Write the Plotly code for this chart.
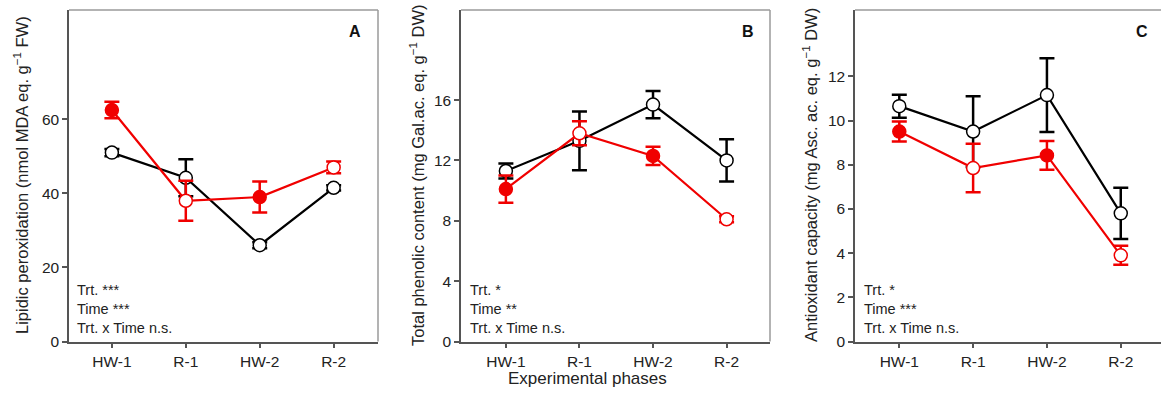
import plotly.graph_objects as go

phases = ["HW-1", "R-1", "HW-2", "R-2"]

# Panel A: lipidic peroxidation
a_red = [62.5, 38.0, 39.0, 47.0]
a_red_err = [2.2, 5.4, 4.2, 1.6]
a_black = [51.0, 44.2, 26.0, 41.5]
a_black_err = [1.0, 5.0, 0.8, 0.7]
a_ticks = [0, 20, 40, 60]

# Panel B: total phenolic content
b_red = [10.1, 13.8, 12.3, 8.1]
b_red_err = [0.9, 0.8, 0.6, 0.2]
b_black = [11.3, 13.3, 15.7, 12.0]
b_black_err = [0.5, 1.95, 0.9, 1.4]
b_ticks = [0, 4, 8, 12, 16]

# Panel C: antioxidant capacity
c_red = [9.5, 7.85, 8.42, 3.9]
c_red_err = [0.45, 1.1, 0.65, 0.43]
c_black = [10.65, 9.5, 11.15, 5.8]
c_black_err = [0.52, 1.6, 1.67, 1.16]
c_ticks = [0, 2, 4, 6, 8, 10, 12]

red_fill = ["#f00000", "white", "#f00000", "white"]

W, H = 1161, 396
RED = "#f00000"
BLACK = "#000000"
FONT = "Liberation Sans, Arial, sans-serif"
TXT = "#222222"

panels = [
    dict(red=a_red, red_err=a_red_err, black=a_black, black_err=a_black_err,
         x0=69, x1=378, xr=[-0.58, 3.6], yr=[0, 89.5], ticks=a_ticks, letter="A",
         letter_x=355, title_x=21,
         ytitle="Lipidic peroxidation (nmol MDA eq. g<sup>−1</sup> FW)",
         stats="Trt. ***<br>Time ***<br>Trt. x Time n.s.", stats_x=75, right=True),
    dict(red=b_red, red_err=b_red_err, black=b_black, black_err=b_black_err,
         x0=461, x1=770, xr=[-0.61, 3.59], yr=[0, 21.97], ticks=b_ticks, letter="B",
         letter_x=748, title_x=417,
         ytitle="Total phenolic content (mg Gal.ac. eq. g<sup>−1</sup> DW)",
         stats="Trt. *<br>Time **<br>Trt. x Time n.s.", stats_x=468, right=True),
    dict(red=c_red, red_err=c_red_err, black=c_black, black_err=c_black_err,
         x0=855, x1=1161, xr=[-0.6, 3.545], yr=[0, 15.0], ticks=c_ticks, letter="C",
         letter_x=1142, title_x=810,
         ytitle="Antioxidant capacity (mg Asc. ac. eq. g<sup>−1</sup> DW)",
         stats="Trt. *<br>Time ***<br>Trt. x Time n.s.", stats_x=862, right=False),
]

y_top, y_bot = 10, 341.5
yd = [1 - y_bot / H, 1 - y_top / H]

fig = go.Figure()
layout = dict(
    template="none",
    width=W, height=H, autosize=False,
    margin=dict(l=0, r=0, t=0, b=0, pad=0, autoexpand=False),
    paper_bgcolor="white", plot_bgcolor="white", showlegend=False,
    font=dict(family=FONT, color=TXT, size=15),
)
annotations = []
shapes = []

for i, p in enumerate(panels):
    n = "" if i == 0 else str(i + 1)
    xa, ya = "x" + n, "y" + n
    fig.add_trace(go.Scatter(
        x=phases, y=p["black"], xaxis=xa, yaxis=ya, mode="lines+markers",
        line=dict(color=BLACK, width=2.2),
        marker=dict(size=13, color="white", line=dict(color=BLACK, width=1.5)),
        error_y=dict(type="data", array=p["black_err"], color=BLACK, thickness=2.5, width=7.5),
    ))
    fig.add_trace(go.Scatter(
        x=phases, y=p["red"], xaxis=xa, yaxis=ya, mode="lines+markers",
        line=dict(color=RED, width=2.2),
        marker=dict(size=13, color=red_fill, line=dict(color=RED, width=1.5)),
        error_y=dict(type="data", array=p["red_err"], color=RED, thickness=2.5, width=7.5),
    ))
    layout["xaxis" + n] = dict(
        domain=[p["x0"] / W, p["x1"] / W], range=p["xr"], anchor=ya,
        type="category", categoryorder="array", categoryarray=phases,
        automargin=False,
        showline=True, linecolor="#555555", linewidth=1.5, mirror=False,
        ticks="outside", ticklen=5, tickcolor="#555555", tickwidth=1.5,
        showgrid=False, zeroline=False, tickfont=dict(size=15.5, color=TXT),
    )
    layout["yaxis" + n] = dict(
        domain=yd, range=p["yr"], anchor=xa, tickvals=p["ticks"],
        automargin=False,
        showline=True, linecolor="#555555", linewidth=1.5, mirror=False,
        ticks="outside", ticklen=5, tickcolor="#555555", tickwidth=1.5,
        showgrid=False, zeroline=False, tickfont=dict(size=15.5, color=TXT),
    )
    shapes.append(dict(type="line", xref="paper", yref="paper",
                       x0=p["x0"] / W, x1=p["x1"] / W, y0=yd[1], y1=yd[1],
                       line=dict(color="#9a9a9a", width=1.5)))
    if p["right"]:
        shapes.append(dict(type="line", xref="paper", yref="paper",
                           x0=p["x1"] / W, x1=p["x1"] / W, y0=yd[0], y1=yd[1],
                           line=dict(color="#9a9a9a", width=1.5)))
    annotations.append(dict(
        text="<b>" + p["letter"] + "</b>", xref="paper", yref="paper",
        x=p["letter_x"] / W, y=1 - 32 / H, showarrow=False,
        font=dict(size=16, color="#111111"), xanchor="center", yanchor="middle"))
    annotations.append(dict(
        text=p["ytitle"], xref="paper", yref="paper", textangle=-90,
        x=p["title_x"] / W, y=1 - 175 / H, showarrow=False,
        font=dict(size=16.5, color=TXT), xanchor="center", yanchor="middle"))
    annotations.append(dict(
        text=p["stats"], xref="paper", yref="paper", align="left",
        x=p["stats_x"] / W, y=1 - 309 / H, showarrow=False,
        font=dict(size=14.5, color=TXT), xanchor="left", yanchor="middle"))

annotations.append(dict(
    text="Experimental phases", xref="paper", yref="paper",
    x=587 / W, y=1 - 378 / H, showarrow=False,
    font=dict(size=17, color=TXT), xanchor="center", yanchor="middle"))

layout["annotations"] = annotations
layout["shapes"] = shapes
fig.update_layout(**layout)

fig.write_html("out.html", config={"displayModeBar": False},
               post_script="document.body.style.margin='0';document.body.style.overflow='hidden';")
